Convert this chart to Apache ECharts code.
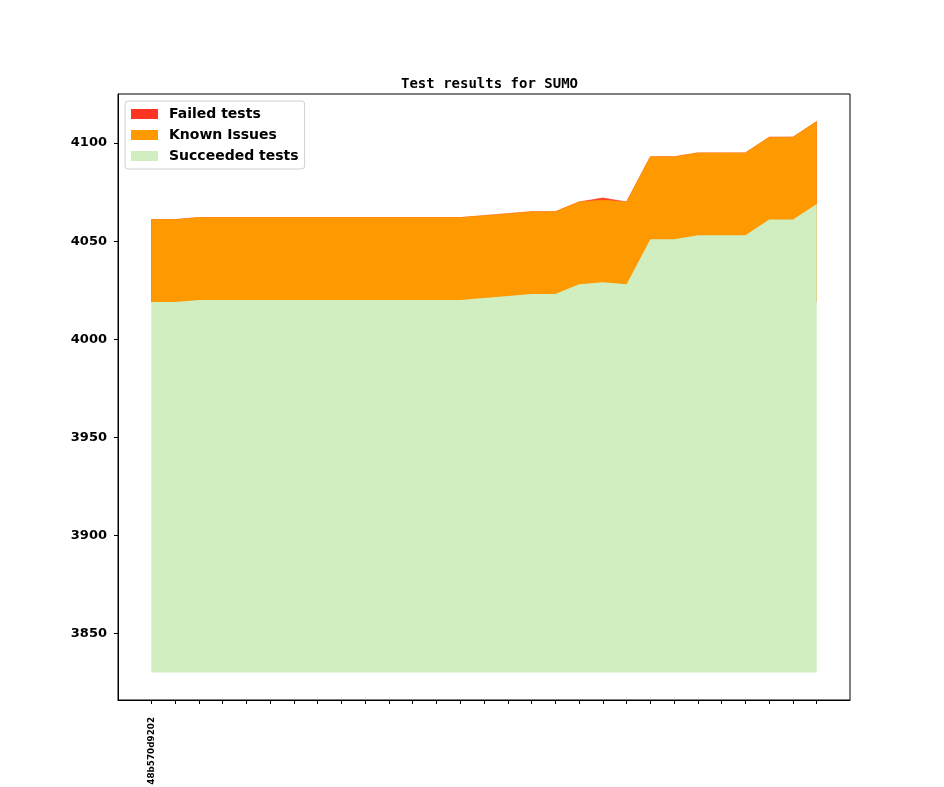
<!DOCTYPE html>
<html>
<head>
<meta charset="utf-8">
<script src="https://cdn.jsdelivr.net/npm/echarts@6/dist/echarts.min.js"></script>
<style>
html,body{margin:0;padding:0;background:#fff;}
#chart{width:944px;height:787px;}
</style>
</head>
<body>
<div id="chart"></div>
<script>
// ---- data ----
var categories = ['48b570d9202', '', '', '', '', '', '', '', '', '', '', '', '', '', '', '', '', '', '', '', '', '', '', '', '', '', '', '', ''];
var baseline = 3830;
var succeeded = [4019, 4019, 4020, 4020, 4020, 4020, 4020, 4020, 4020, 4020, 4020, 4020, 4020, 4020, 4021, 4022, 4023, 4023, 4028, 4029, 4028, 4051, 4051, 4053, 4053, 4053, 4061, 4061, 4069];
var knownIssues = [42, 42, 42, 42, 42, 42, 42, 42, 42, 42, 42, 42, 42, 42, 42, 42, 42, 42, 42, 42, 42, 42, 42, 42, 42, 42, 42, 42, 42];
var failed = [0, 0, 0, 0, 0, 0, 0, 0, 0, 0, 0, 0, 0, 0, 0, 0, 0, 0, 0, 1, 0, 0, 0, 0, 0, 0, 0, 0, 0];
var yTicks = [3850, 3900, 3950, 4000, 4050, 4100];

var COLORS = {failed: '#ff3322', known: '#ff9900', succ: '#d0eec0'};

// cumulative tops of the stacked bands (built from the arrays above)
var succTop = succeeded.map(function (s, i) { return [i, s]; });
var knownTop = succeeded.map(function (s, i) { return [i, s + knownIssues[i]]; });
var failTop = succeeded.map(function (s, i) { return [i, s + knownIssues[i] + failed[i]]; });

var xTickValues = categories.map(function (c, i) { return i; });
var n = categories.length;
var dataMax = Math.max.apply(null, failTop.map(function (p) { return p[1]; }));
var span = dataMax - baseline;
// upper bands are hidden below the succeeded band, so they only need to reach its lowest value
var upperOrigin = Math.min.apply(null, succeeded);

function band(name, data, color, z, origin, lw) {
  return {
    name: name, type: 'line', data: data, z: z,
    showSymbol: false, symbol: 'none',
    lineStyle: {width: lw, color: color},
    itemStyle: {color: color},
    areaStyle: {color: color, opacity: 1, origin: origin}
  };
}

var chart = echarts.init(document.getElementById('chart'), null, {renderer: 'canvas'});
chart.setOption({
  animation: false,
  backgroundColor: '#ffffff',
  title: {
    text: 'Test results for SUMO',
    left: 396,
    top: 72,
    textStyle: {fontFamily: 'DejaVu Sans Mono', fontWeight: 'bold', fontSize: 14, color: '#000'}
  },
  legend: {
    data: ['Failed tests', 'Known Issues', 'Succeeded tests'],
    orient: 'vertical',
    left: 125,
    top: 101,
    padding: [6, 6, 6, 6],
    itemGap: 7,
    itemWidth: 27,
    itemHeight: 10,
    icon: 'rect',
    backgroundColor: '#fff',
    borderColor: '#d0d0d0',
    borderWidth: 1,
    borderRadius: 3,
    z: 10,
    textStyle: {fontFamily: 'DejaVu Sans', fontWeight: 'bold', fontSize: 14, color: '#000', lineHeight: 14, padding: [0, 0, 0, 6]}
  },
  grid: {
    left: 118, right: 94, top: 94, bottom: 87,
    show: true, borderColor: '#000', borderWidth: 1,
    containLabel: false, outerBoundsMode: 'none'
  },
  xAxis: {
    type: 'value',
    min: -0.05 * (n - 1),
    max: (n - 1) * 1.05,
    splitLine: {show: false},
    axisLine: {onZero: false, lineStyle: {color: '#000', width: 1}},
    axisTick: {length: 4, lineStyle: {color: '#000'}, customValues: xTickValues},
    axisLabel: {
      customValues: [0],
      rotate: 90,
      margin: 17,
      fontFamily: 'DejaVu Sans', fontWeight: 'bold', fontSize: 8.8, color: '#000',
      formatter: function (v) { return categories[Math.round(v)] || ''; }
    }
  },
  yAxis: {
    type: 'value',
    min: baseline - 0.05 * span,
    max: dataMax + 0.05 * span,
    splitLine: {show: false},
    axisLine: {show: true, onZero: false, lineStyle: {color: '#000', width: 1}},
    axisTick: {show: true, length: 4, lineStyle: {color: '#000'}, customValues: yTicks},
    axisLabel: {
      customValues: yTicks,
      margin: 11,
      fontFamily: 'DejaVu Sans', fontWeight: 'bold', fontSize: 13, color: '#000',
      formatter: function (v) { return String(Math.round(v)); }
    }
  },
  series: [
    band('Failed tests', failTop, COLORS.failed, 2, upperOrigin, 0.6),
    band('Known Issues', knownTop, COLORS.known, 3, upperOrigin, 0.6),
    band('Succeeded tests', succTop, COLORS.succ, 4, baseline, 0)
  ]
});
</script>
</body>
</html>
